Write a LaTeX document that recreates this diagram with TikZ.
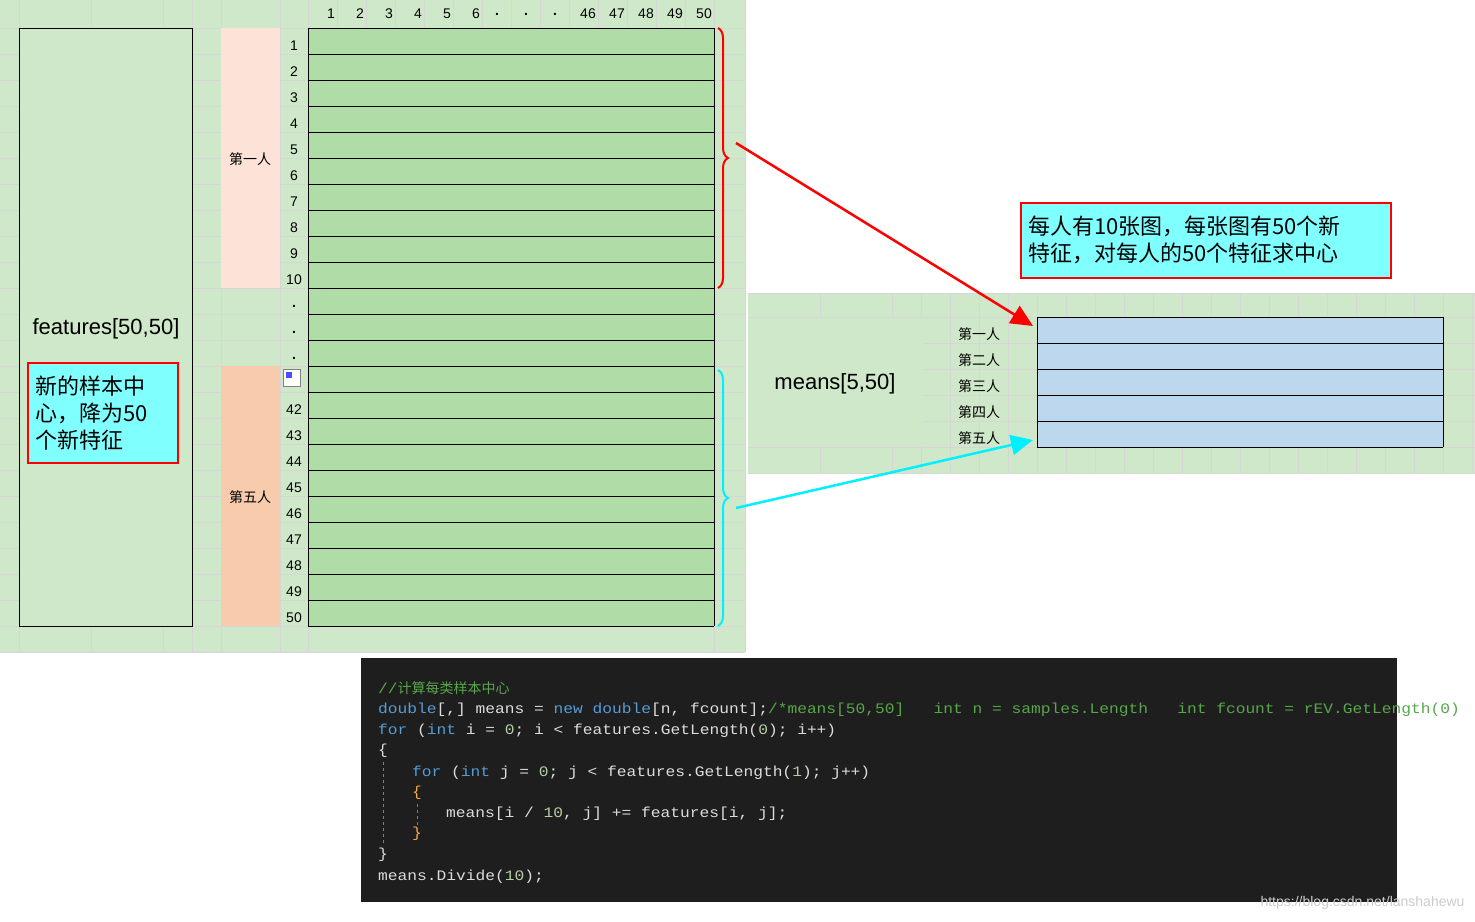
\documentclass[tikz,border=0pt]{standalone}
\usepackage{fontspec}
\setmainfont{Liberation Sans}
\newfontfamily\cjk{Noto Sans CJK SC}
\newfontfamily\codefont{Liberation Mono}[FakeStretch=1.12]
\usetikzlibrary{arrows.meta,decorations.pathreplacing,positioning}
\definecolor{sheet}{RGB}{207,232,202}
\definecolor{gridc}{RGB}{214,214,214}
\definecolor{cellg}{RGB}{176,220,168}
\definecolor{pinkA}{RGB}{253,227,215}
\definecolor{pinkB}{RGB}{248,203,173}
\definecolor{cellb}{RGB}{189,215,238}
\definecolor{notec}{RGB}{128,255,255}
\definecolor{aqua}{RGB}{0,240,255}
\definecolor{codebg}{RGB}{30,30,30}
\definecolor{kw}{RGB}{86,156,214}
\definecolor{cm}{RGB}{87,166,74}
\definecolor{tx}{RGB}{220,220,220}
\definecolor{nu}{RGB}{181,206,168}
\tikzset{every picture/.style={>=Stealth},
  num/.style={font=\fontsize{14}{16}\selectfont},
  who/.style={font=\cjk\fontsize{14}{16}\selectfont},
  note/.style={draw=red,line width=2pt,fill=notec,align=left,inner sep=6pt},
  hand/.style={line width=2pt,decoration={brace,amplitude=10pt},decorate},
  code/.style={anchor=west,inner sep=0pt,text=tx,font=\codefont\fontsize{14.5}{16}\selectfont}}
\begin{document}
\begin{tikzpicture}[x=1pt,y=-1pt]
  \useasboundingbox (0,0) rectangle (1475,921);
  % left sheet
  \fill[sheet] (0,0) rectangle (745,652);
  \foreach \y in {28,54,...,652} \draw[gridc] (0,\y) -- (745,\y);
  \foreach \x in {19,91,163,192,221,280,308,714,745} \draw[gridc] (\x,0) -- (\x,652);
  \foreach \x in {337,366,...,714} \draw[gridc] (\x,0) -- (\x,28);
  \draw[fill=sheet] (19,28) rectangle (192,626);
  \node (feat) at (106,329) {\fontsize{22}{24}\selectfont features[50,50]};
  \node[note,font=\cjk\fontsize{22}{27}\selectfont,minimum width=150pt,minimum height=100pt,text width=136pt,inner sep=4pt]
    (newc) at (103,413) {新的样本中\\心，降为50\\个新特征};
  \fill[pinkA] (221,28) rectangle (280,288);
  \fill[pinkB] (221,366) rectangle (280,626);
  \node[who] (p1) at (250,159) {第一人};
  \node[who] (p5) at (250,497) {第五人};
  % header
  \foreach \x/\t in {331/1,360/2,389/3,418/4,447/5,476/6,588/46,617/47,646/48,675/49,704/50}
    \node[num] at (\x,14) {\t};
  \foreach \x in {497,526,555} \node[num] at (\x,14) {\textbf{.}};
  % rows
  \fill[cellg] (308,28) rectangle (714,626);
  \foreach \i in {0,...,23} \draw (308,28+26*\i) -- (714,28+26*\i);
  \draw (308,28) -- (308,626) (714,28) -- (714,626);
  \foreach \i in {1,...,10} \node[num] at (294,20+26*\i) {\i};
  \foreach \i in {11,12,13} \node[num] at (294,20+26*\i) {\textbf{.}};
  \foreach \i in {42,...,50} \node[num] at (294,20+26*\i-702) {\i};
  \draw[gray,fill=white] (283,369) rectangle (300,386);
  \fill[blue!70] (286,372) rectangle (292,378);
  % braces
  \draw[red,hand] (718,28) -- (718,288);
  \draw[aqua,hand] (718,370) -- (718,626);
  \coordinate (b1) at (736,143);
  \coordinate (b5) at (736,508);
  % right sheet
  \fill[sheet] (748,293) rectangle (1475,473);
  \foreach \y in {293,317,447,473} \draw[gridc] (748,\y) -- (1475,\y);
  \foreach \y in {343,369,395,421} \draw[gridc] (923,\y) -- (1475,\y);
  \foreach \x in {820,892} \draw[gridc] (\x,293) -- (\x,317) (\x,447) -- (\x,473);
  \foreach \x in {921,950,...,1475} \draw[gridc] (\x,293) -- (\x,473);
  \fill[sheet] (749,318) rectangle (922,446);
  \node (means) at (835,384) {\fontsize{22}{24}\selectfont means[5,50]};
  \fill[cellb] (1037,317) rectangle (1443,447);
  \foreach \i in {0,...,5} \draw (1037,317+26*\i) -- (1443,317+26*\i);
  \draw (1037,317) -- (1037,447) (1443,317) -- (1443,447);
  \foreach \i/\t in {1/一,2/二,3/三,4/四,5/五}
    \node[who] (m\i) at (979,308+26*\i) {第\t 人};
  \coordinate (t1) at (1033,326);
  \coordinate (t5) at (1033,440);
  \node[note,font=\cjk\fontsize{22}{27}\selectfont,minimum width=370pt,minimum height=75pt,text width=356pt,inner sep=4pt]
    (tip) at (1206,240) {每人有10张图，每张图有50个新\\特征，对每人的50个特征求中心};
  \draw[red,line width=2.5pt,-{Triangle[length=22pt,width=20pt]}] (b1) -- (t1);
  \draw[aqua,line width=2.5pt,-{Triangle[length=22pt,width=20pt]}] (b5) -- (t5);
  % code
  \fill[codebg] (361,658) rectangle (1397,902);
  \node[code,text=cm] (c1) at (378,688) {//{\cjk\fontsize{14}{16}\selectfont 计算每类样本中心}};
  \node[code] (c2) at (378,710) {\textcolor{kw}{double}[,] means = \textcolor{kw}{new double}[n, fcount];\textcolor{cm}{/*means[50,50]\ \ \ int n = samples.Length\ \ \ int fcount = rEV.GetLength(0)\ \ \ */}};
  \node[code] (c3) at (378,731) {\textcolor{kw}{for} (\textcolor{kw}{int} i = \textcolor{nu}{0}; i < features.GetLength(\textcolor{nu}{0}); i++)};
  \node[code] (c4) at (378,751) {\{};
  \node[code] (c5) at (412,773) {\textcolor{kw}{for} (\textcolor{kw}{int} j = \textcolor{nu}{0}; j < features.GetLength(\textcolor{nu}{1}); j++)};
  \node[code,text=orange!70] (c6) at (412,793) {\{};
  \node[code] (c7) at (446,814) {means[i / \textcolor{nu}{10}, j] += features[i, j];};
  \node[code,text=orange!70] (c8) at (412,834) {\}};
  \node[code] (c9) at (378,855) {\}};
  \node[code] (c10) at (378,877) {means.Divide(\textcolor{nu}{10});};
  \draw[gray,dashed] (383,762) -- (383,846) (417,804) -- (417,826);
  \node[anchor=east,text=gray!40,font=\fontsize{14}{16}\selectfont] (wm) at (1468,903) {https://blog.csdn.net/lanshahewu};
\end{tikzpicture}
\end{document}
